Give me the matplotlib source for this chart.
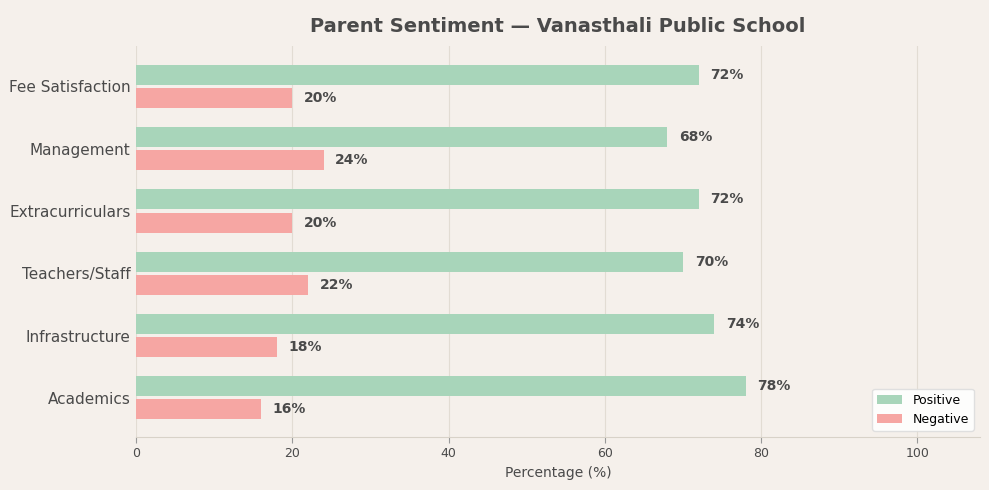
import numpy as np
import matplotlib
matplotlib.use("Agg")
import matplotlib.pyplot as plt

# ── data ──────────────────────────────────────────────────────────────
categories = ["Academics", "Infrastructure", "Teachers/Staff",
              "Extracurriculars", "Management", "Fee Satisfaction"]
positive = [78, 74, 70, 72, 68, 72]
negative = [16, 18, 22, 20, 24, 20]

BG = "#f5f0eb"
TXT = "#4a4a4a"
COLOR_POS = "#a8d5ba"
COLOR_NEG = "#f6a6a3"

fig = plt.figure(figsize=(9.89, 4.9), dpi=100, facecolor=BG)
ax = fig.add_axes([136 / 989, 1 - 437 / 490, (980 - 136) / 989, (437 - 46) / 490])
ax.set_facecolor(BG)

y = np.arange(len(categories))
h = 0.32
off = 0.187
ax.barh(y + off, positive, height=h, color=COLOR_POS, label="Positive", zorder=3)
ax.barh(y - off, negative, height=h, color=COLOR_NEG, label="Negative", zorder=3)

for yi, p, n in zip(y, positive, negative):
    ax.text(p + 1.5, yi + off, f"{p}%", va="center", ha="left",
            fontsize=10, fontweight="bold", color=TXT)
    ax.text(n + 1.5, yi - off, f"{n}%", va="center", ha="left",
            fontsize=10, fontweight="bold", color=TXT)

ax.set_yticks(y)
ax.set_yticklabels(categories, fontsize=11, color=TXT)
ax.set_xlim(0, 108)
ax.set_ylim(-0.63, 5.65)
ax.set_xticks([0, 20, 40, 60, 80, 100])
ax.tick_params(axis="x", labelsize=9, colors=TXT, length=4, color="#999")
ax.tick_params(axis="y", length=0, pad=4)
ax.set_xlabel("Percentage (%)", fontsize=10, color=TXT)
ax.grid(axis="x", color="#e2dcd3", linewidth=0.8, zorder=0)

for s in ["top", "right", "left"]:
    ax.spines[s].set_visible(False)
ax.spines["bottom"].set_color("#d8d2c8")

ax.set_title("Parent Sentiment — Vanasthali Public School",
             fontsize=14, fontweight="bold", color=TXT, pad=10)

ax.legend(loc="lower right", fontsize=9, facecolor="white", edgecolor="#ddd",
          framealpha=0.9)

fig.savefig("out.png", dpi=100, facecolor=BG)
